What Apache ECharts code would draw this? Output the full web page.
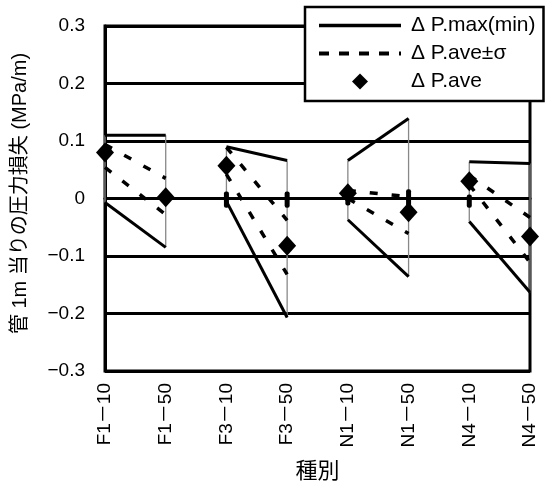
<!DOCTYPE html>
<html>
<head>
<meta charset="utf-8">
<script src="https://cdn.jsdelivr.net/npm/echarts@6/dist/echarts.min.js"></script>
<style>
html,body{margin:0;padding:0;background:#fff;}
#chart{width:549px;height:488px;}
</style>
</head>
<body>
<div id="chart"></div>
<script>
// ---- data ----
const categories = ['F1－10','F1－50','F3－10','F3－50','N1－10','N1－50','N4－10','N4－50'];
const maxVals      = [0.110, 0.110, 0.090, 0.066, 0.066, 0.139, 0.064, 0.061];
const minVals      = [-0.007, -0.085, -0.005, -0.207, -0.037, -0.136, -0.040, -0.163];
const avePlusSigma = [0.094, 0.035, 0.089, -0.038, 0.014, 0.003, 0.040, -0.033];
const aveMinusSigma= [0.054, -0.028, 0.042, -0.132, 0.000, -0.061, 0.024, -0.111];
const aveVals      = [0.080, 0.002, 0.057, -0.082, 0.009, -0.024, 0.030, -0.066];
const upDownTop    = [null, null, 0.012, 0.012, 0.005, 0.016, 0.007, null];
const upDownBottom = [null, null, -0.016, -0.016, -0.012, -0.023, -0.016, null];
const yMin = -0.3, yMax = 0.3, yInterval = 0.1;
const pairs = [[0,1],[2,3],[4,5],[6,7]];

const NAME_MAX = 'Δ P.max(min)';
const NAME_SIG = 'Δ P.ave±σ';
const NAME_AVE = 'Δ P.ave';

function pairData(arr, p){
  return arr.map((v,i)=> (i===p[0]||i===p[1]) ? v : null);
}

const series = [];
// high-low lines
series.push({
  type:'custom', name:'hl', z:2, silent:true,
  encode:{x:0, y:[1,2]},
  data: categories.map((c,i)=>[i, maxVals[i], minVals[i]]),
  renderItem: function(params, api){
    const a = api.coord([api.value(0), api.value(1)]);
    const b = api.coord([api.value(0), api.value(2)]);
    return {type:'line', shape:{x1:a[0],y1:a[1],x2:b[0],y2:b[1]}, style:{stroke:'#888', lineWidth:1.3}};
  }
});
// up-down bars (narrow)
series.push({
  type:'custom', name:'ud', z:3, silent:true,
  encode:{x:0, y:[1,2]},
  data: categories.map((c,i)=>[i, upDownTop[i], upDownBottom[i]]).filter(d=>d[1]!==null),
  renderItem: function(params, api){
    const a = api.coord([api.value(0), api.value(1)]);
    const b = api.coord([api.value(0), api.value(2)]);
    return {type:'rect', shape:{x:a[0]-2.5,y:a[1],width:5,height:b[1]-a[1], r:2}, style:{fill:'#000'}};
  }
});
pairs.forEach(p=>{
  [maxVals, minVals].forEach(arr=>{
    series.push({type:'line', name:NAME_MAX, data:pairData(arr,p), symbol:'none', connectNulls:false,
      lineStyle:{color:'#000', width:3}, itemStyle:{color:'#000'}, z:4, animation:false});
  });
  [avePlusSigma, aveMinusSigma].forEach(arr=>{
    series.push({type:'line', name:NAME_SIG, data:pairData(arr,p), symbol:'none', connectNulls:false,
      lineStyle:{color:'#000', width:3.5, type:[8,14]}, itemStyle:{color:'#000'}, z:4, animation:false});
  });
});
series.push({type:'line', name:NAME_AVE, data:aveVals, symbol:'diamond', symbolSize:[18,20], showSymbol:true,
  lineStyle:{width:0, opacity:0}, itemStyle:{color:'#000', opacity:1}, z:6, animation:false});

const FONT = "'Liberation Sans', Arial, 'Noto Sans CJK JP', sans-serif";
const option = {
  animation:false,
  backgroundColor:'#fff',
  textStyle:{fontFamily:FONT, color:'#000'},
  grid:{left:105, right:19, top:26, bottom:116, show:true, borderColor:'#000', borderWidth:3, backgroundColor:'transparent'},
  legend:{
    data:[
      {name:NAME_MAX, itemStyle:{opacity:0}, lineStyle:{width:3.5, color:'#000'}},
      {name:NAME_SIG, itemStyle:{opacity:0}, lineStyle:{width:4, color:'#000', type:[10,10]}},
      {name:NAME_AVE, itemStyle:{opacity:1, color:'#000'}}
    ],
    orient:'vertical', left:305, top:7,
    backgroundColor:'#fff', borderColor:'#000', borderWidth:2.5,
    padding:[8, 8, 9, 12], itemGap:7, itemWidth:82, itemHeight:20,
    textStyle:{fontSize:21, color:'#000', fontFamily:FONT, padding:[0,0,0,5]},
    z:20, selectedMode:false
  },
  xAxis:{
    type:'category', data:categories, boundaryGap:false,
    axisLine:{show:true, lineStyle:{color:'#000', width:3}},
    axisTick:{show:false},
    axisLabel:{rotate:90, fontSize:19, color:'#000', margin:12, fontFamily:FONT},
    name:'種別', nameLocation:'middle', nameGap:90,
    nameTextStyle:{fontSize:22, color:'#000', fontFamily:FONT}
  },
  yAxis:{
    type:'value', min:yMin, max:yMax, interval:yInterval,
    axisLine:{show:true, lineStyle:{color:'#000', width:3}},
    axisTick:{show:false},
    splitLine:{show:true, lineStyle:{color:'#000', width:3}},
    axisLabel:{fontSize:19, color:'#000', margin:20, fontFamily:FONT,
      formatter:function(v){ const r = Math.round(v*10)/10; if(r===0) return '0'; return (r<0?'−':'') + Math.abs(r).toFixed(1); }},
    name:'管 1m 当りの圧力損失 (MPa/m)', nameLocation:'middle', nameGap:75,
    nameTextStyle:{fontSize:20, color:'#000', fontFamily:FONT, padding:[0,0,0,10]}
  },
  series:series
};
const chart = echarts.init(document.getElementById('chart'), null, {renderer:'canvas'});
chart.setOption(option);
</script>
</body>
</html>
